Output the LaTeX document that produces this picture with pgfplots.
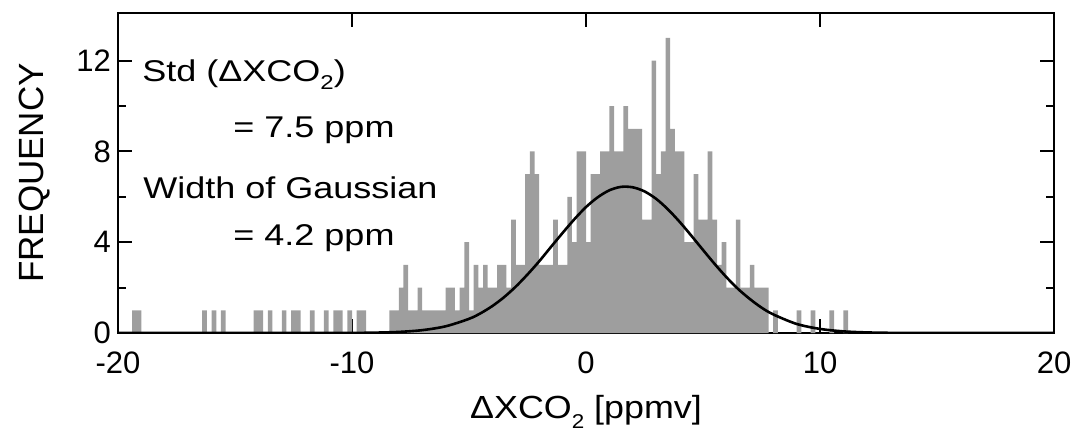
\documentclass[border=0pt]{standalone}
\usepackage{pgfplots}
\pgfplotsset{compat=1.18}
\usepackage{pgfplotstable}
\usepackage{fontspec}
\setmainfont{Liberation Sans}
\newfontfamily\widefont[FakeStretch=1.2]{Liberation Sans}
\newfontfamily\xlfont[FakeStretch=1.12]{Liberation Sans}
\newcommand{\sub}[1]{\raisebox{-0.55ex}{\fontsize{10}{10}\selectfont #1}}

\pgfplotstableread{
x y
-19.3 1
-19.1 1
-16.3 1
-15.9 1
-15.5 1
-14.1 1
-13.9 1
-13.5 1
-12.9 1
-12.5 1
-12.3 1
-11.7 1
-11.1 1
-10.7 1
-10.5 1
-10.1 1
-9.7 1
-9.5 1
-8.3 1
-8.1 1
-7.9 2
-7.7 3
-7.5 1
-7.3 1
-7.1 2
-6.9 1
-6.7 1
-6.5 1
-6.3 1
-6.1 1
-5.9 2
-5.7 2
-5.5 1
-5.3 2
-5.1 4
-4.9 1
-4.7 3
-4.5 2
-4.3 3
-4.1 2
-3.9 2
-3.7 3
-3.5 3
-3.3 2
-3.1 5
-2.9 3
-2.7 3
-2.5 7
-2.3 8
-2.1 7
-1.9 3
-1.7 3
-1.5 3
-1.3 5
-1.1 3
-0.9 3
-0.7 6
-0.5 4
-0.3 8
-0.1 8
0.1 4
0.3 7
0.5 7
0.7 8
0.9 8
1.1 10
1.3 8
1.5 8
1.7 10
1.9 9
2.1 9
2.3 9
2.5 5
2.7 5
2.9 12
3.1 7
3.3 8
3.5 13
3.7 9
3.9 8
4.1 8
4.3 4
4.5 4
4.7 7
4.9 5
5.1 5
5.3 8
5.5 5
5.7 3
5.9 4
6.1 2
6.3 2
6.5 5
6.7 2
6.9 2
7.1 3
7.3 2
7.5 2
7.7 2
8.1 1
9.1 1
9.7 1
10.5 1
11.1 1
}\hist

\begin{document}
\begin{tikzpicture}
\begin{axis}[
  at={(0,0)}, anchor=south west,
  scale only axis, width=468pt, height=160pt,
  xmin=-20, xmax=20, ymin=0, ymax=14.1,
  xtick={-20,-10,0,10,20}, xticklabels={-20,-10,0,10,20},
  ytick={0,4,8,12}, yticklabels={0,4,8,12},
  minor ytick={2,6,10},
  tick align=inside,
  major tick length=7pt, minor tick length=4pt,
  tick style={black, line width=1pt},
  axis line style={line width=1.2pt},
  every tick label/.append style={font=\fontsize{15.5}{18}\selectfont},
  xticklabel style={yshift=-6pt},
  xlabel={\xlfont\fontsize{16}{19}\selectfont ΔXCO\sub{2} [ppmv]},
  xlabel style={at={(axis description cs:0.5,-0.247)}, anchor=center},
  ylabel={\fontsize{17.5}{20}\selectfont FREQUENCY},
  ylabel style={at={(axis description cs:-0.0887,0.5)}, anchor=center},
  clip=true,
]
\addplot[ybar, bar width=0.2, bar shift=0pt, fill=black!38, draw=none] table[x=x, y=y] {\hist};
\addplot[black, line width=1.3pt, smooth] coordinates {
(-20,0) (-14,0) (-12,0.001) (-10,0.005) (-9,0.017) (-8,0.048) (-7,0.126) (-6,0.295) (-5,0.624) (-4.5,0.873) (-4,1.19) (-3.5,1.58) (-3,2.045) (-2.5,2.58) (-2,3.16) (-1.5,3.79) (-1,4.41) (-0.5,5.01) (0,5.55) (0.5,5.98) (1,6.29) (1.5,6.44) (2,6.42) (2.5,6.24) (3,5.91) (3.5,5.45) (4,4.90) (4.5,4.29) (5,3.66) (5.5,3.04) (6,2.46) (6.5,1.94) (7,1.50) (7.5,1.12) (8,0.82) (9,0.40) (10,0.18) (11,0.072) (12,0.026) (13,0.008) (14,0.002) (20,0)
};
\node[anchor=base west, inner sep=0pt, font=\widefont\fontsize{15}{18}\selectfont] at (rel axis cs:0.0256,0.7875) {Std (ΔXCO\sub{2})};
\node[anchor=base west, inner sep=0pt, font=\widefont\fontsize{15}{18}\selectfont] at (rel axis cs:0.1229,0.6125) {= 7.5 ppm};
\node[anchor=base west, inner sep=0pt, font=\widefont\fontsize{15}{18}\selectfont] at (rel axis cs:0.0267,0.4219) {Width of Gaussian};
\node[anchor=base west, inner sep=0pt, font=\widefont\fontsize{15}{18}\selectfont] at (rel axis cs:0.1229,0.275) {= 4.2 ppm};
\end{axis}
\pgfresetboundingbox
\useasboundingbox (-59pt,-51.5pt) rectangle (478pt,166.5pt);
\end{tikzpicture}
\end{document}
